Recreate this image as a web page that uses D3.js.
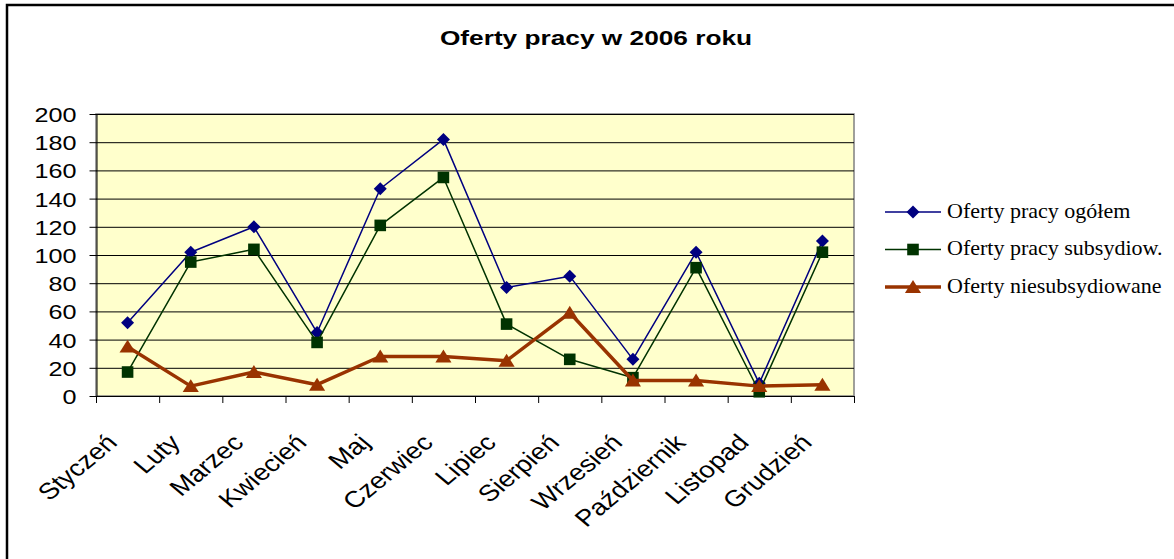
<!DOCTYPE html>
<meta charset="utf-8">
<html>
<head><title>Oferty pracy w 2006 roku</title>
<script src="https://cdn.jsdelivr.net/npm/d3@7"></script>
<style>
    body { margin: 0; background: #fff; }
    .frame { fill: none; stroke: #000; stroke-width: 2.5; }
    .plotBg { fill: #ffffcc; stroke: #808080; stroke-width: 1.5; }
    .grid { stroke: #000; stroke-width: 1; }
    .axis path, .axis line { stroke: #000; stroke-width: 1; }
    .axisText { font-family: Arial, "Liberation Sans", sans-serif; font-size: 21px; fill: #000; }
    .catText { font-family: Arial, "Liberation Sans", sans-serif; font-size: 23px; fill: #000; }
    .title { font-family: Arial, "Liberation Sans", sans-serif; font-size: 21px; font-weight: bold; }
    .legendText { font-family: "Times New Roman", "Liberation Serif", serif; font-size: 22px; }
</style>
</head>
<body>
<div id="chart"></div>
<script>
    var W = 1174, H = 559;

    // data
    var months = ["Styczeń", "Luty", "Marzec", "Kwiecień", "Maj", "Czerwiec", "Lipiec",
                  "Sierpień", "Wrzesień", "Październik", "Listopad", "Grudzień"];
    var ogolem = [52, 102, 120, 45, 147, 182, 77, 85, 26, 102, 9, 110];
    var subsydiow = [17, 95, 104, 38, 121, 155, 51, 26, 13, 91, 3, 102];
    var niesubs = [35, 7, 17, 8, 28, 28, 25, 59, 11, 11, 7, 8];
    var seriesNames = ["Oferty pracy ogółem", "Oferty pracy subsydiow.", "Oferty niesubsydiowane"];
    var yTicks = [0, 20, 40, 60, 80, 100, 120, 140, 160, 180, 200];

    // the original picture is a bit wider than tall, so text is stretched sideways
    var sx = 1.2;

    var plot = {left: 96, right: 854, top: 114, bottom: 396};

    var svg = d3.select("#chart").append("svg")
        .attr("width", W).attr("height", H);

    svg.append("rect").attr("class", "frame")
        .attr("x", 7).attr("y", 5).attr("width", W + 10).attr("height", H + 10);

    var x = d3.scaleBand().domain(months).range([plot.left, plot.right]);
    var y = d3.scaleLinear().domain([0, 200]).range([plot.bottom, plot.top]);
    var cx = function(d) { return x(d) + x.bandwidth() / 2; };

    svg.append("rect").attr("class", "plotBg")
        .attr("x", plot.left).attr("y", plot.top)
        .attr("width", plot.right - plot.left).attr("height", plot.bottom - plot.top);

    svg.selectAll("line.grid")
        .data(yTicks.filter(function(d) { return d > 0; }))
        .enter().append("line").attr("class", "grid")
        .attr("x1", plot.left).attr("x2", plot.right)
        .attr("y1", function(d) { return y(d) + 0.5; })
        .attr("y2", function(d) { return y(d) + 0.5; });

    // y axis
    var yAxis = svg.append("g").attr("class", "axis")
        .attr("transform", "translate(" + (plot.left + 0.5) + ",0)")
        .call(d3.axisLeft(y).tickValues(yTicks).tickSize(7).tickSizeOuter(0));
    yAxis.selectAll("text").attr("class", "axisText")
        .attr("x", null).attr("dy", "0.36em")
        .attr("transform", "translate(-20,0) scale(" + sx + ",1)");

    // x axis, ticks between categories
    var xAxis = svg.append("g").attr("class", "axis");
    xAxis.append("line")
        .attr("x1", plot.left).attr("x2", plot.right)
        .attr("y1", plot.bottom + 0.5).attr("y2", plot.bottom + 0.5);
    xAxis.selectAll("line.tick")
        .data(months.map(function(d) { return x(d); }).concat([plot.right]))
        .enter().append("line").attr("class", "tick")
        .attr("x1", function(d) { return d + 0.5; }).attr("x2", function(d) { return d + 0.5; })
        .attr("y1", plot.bottom).attr("y2", plot.bottom + 7);
    xAxis.selectAll("text")
        .data(months).enter().append("text").attr("class", "catText")
        .attr("text-anchor", "end")
        .attr("transform", function(d) {
            return "translate(" + (cx(d) - 9) + "," + (plot.bottom + 48) + ") scale(" + sx + ",1) rotate(-45)";
        })
        .text(function(d) { return d; });

    // markers
    function diamond(s) { return "M0," + (-s) + "L" + s + ",0L0," + s + "L" + (-s) + ",0Z"; }
    function square(s) { return "M" + (-s) + "," + (-s) + "h" + (2 * s) + "v" + (2 * s) + "h" + (-2 * s) + "Z"; }
    function triangle(s) { return "M0," + (-s) + "L" + (s * 1.15) + "," + (s * 0.85) + "L" + (-s * 1.15) + "," + (s * 0.85) + "Z"; }

    var series = [
        {name: seriesNames[0], values: ogolem, color: "#000080", width: 1.5, marker: diamond(6.5)},
        {name: seriesNames[1], values: subsydiow, color: "#003300", width: 1.5, marker: square(5.8)},
        {name: seriesNames[2], values: niesubs, color: "#993300", width: 3.5, marker: triangle(7)}
    ];

    var line = d3.line()
        .x(function(d, i) { return cx(months[i]); })
        .y(function(d) { return y(d); });

    series.forEach(function(s) {
        svg.append("path")
            .attr("d", line(s.values))
            .attr("fill", "none")
            .attr("stroke", s.color)
            .attr("stroke-width", s.width)
            .attr("stroke-linejoin", "round");
        svg.selectAll(null)
            .data(s.values).enter().append("path")
            .attr("d", s.marker)
            .attr("fill", s.color)
            .attr("transform", function(d, i) { return "translate(" + cx(months[i]) + "," + y(d) + ")"; });
    });

    // title
    svg.append("text").attr("class", "title")
        .attr("text-anchor", "middle")
        .attr("transform", "translate(596,45) scale(1.25,1)")
        .text("Oferty pracy w 2006 roku");

    // legend
    var legend = svg.append("g").attr("transform", "translate(885,212)");
    var rows = legend.selectAll("g").data(series).enter().append("g")
        .attr("transform", function(d, i) { return "translate(0," + (i * 37.5) + ")"; });
    rows.append("line")
        .attr("x1", 0).attr("x2", 56).attr("y1", 0).attr("y2", 0)
        .attr("stroke", function(d) { return d.color; })
        .attr("stroke-width", function(d) { return d.width; });
    rows.append("path")
        .attr("d", function(d) { return d.marker; })
        .attr("fill", function(d) { return d.color; })
        .attr("transform", "translate(28,0)");
    rows.append("text").attr("class", "legendText")
        .attr("transform", "translate(62,5.5) scale(1.0,1)")
        .text(function(d) { return d.name; });
</script>
</body>
</html>
